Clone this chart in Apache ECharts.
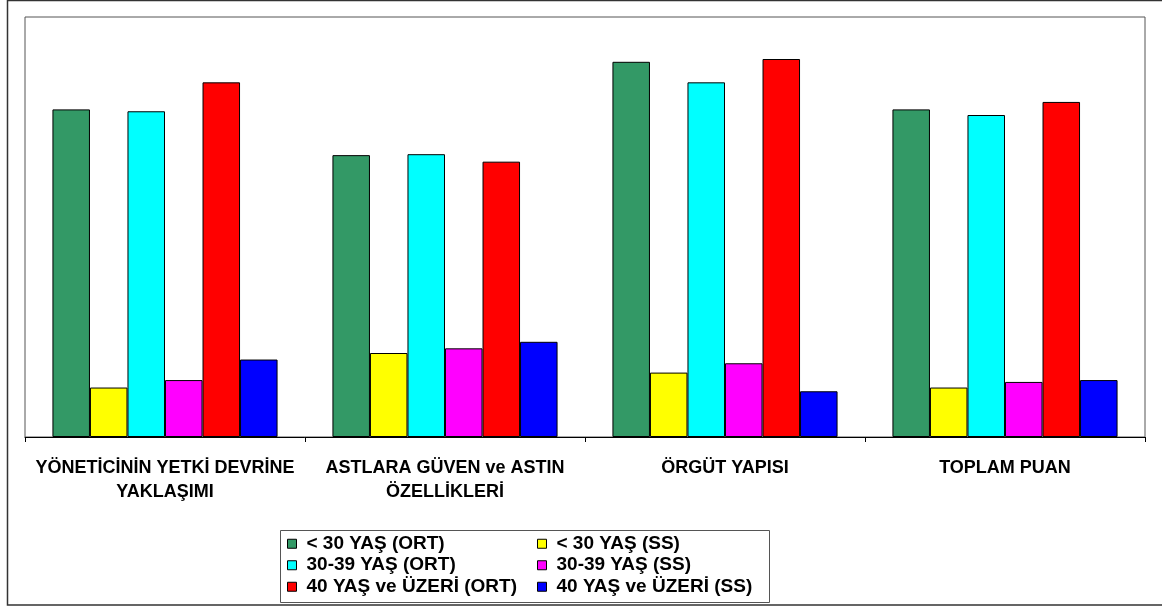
<!DOCTYPE html>
<html>
<head>
<meta charset="utf-8">
<script src="https://cdn.jsdelivr.net/npm/echarts@6/dist/echarts.min.js"></script>
<style>
  html, body { margin: 0; padding: 0; background: #ffffff; }
  #chart { width: 1162px; height: 607px; }
</style>
</head>
<body>
<div id="chart"></div>
<script>
// Alt boyut kategorileri
const categories = [
  'YÖNETİCİNİN YETKİ DEVRİNE\nYAKLAŞIMI',
  'ASTLARA GÜVEN ve ASTIN\nÖZELLİKLERİ',
  'ÖRGÜT YAPISI',
  'TOPLAM PUAN'
];

// Yaş gruplarına göre ortalama (ORT) ve standart sapma (SS) değerleri
const lt30Ort   = [3.51, 3.02, 4.02, 3.51];
const lt30Ss    = [0.53, 0.90, 0.69, 0.53];
const y3039Ort  = [3.49, 3.03, 3.80, 3.45];
const y3039Ss   = [0.61, 0.95, 0.79, 0.59];
const ge40Ort   = [3.80, 2.95, 4.05, 3.59];
const ge40Ss    = [0.83, 1.02, 0.49, 0.61];

const seriesNames = [
  '< 30 YAŞ (ORT)', '< 30 YAŞ (SS)',
  '30-39 YAŞ (ORT)', '30-39 YAŞ (SS)',
  '40 YAŞ ve ÜZERİ (ORT)', '40 YAŞ ve ÜZERİ (SS)'
];
const seriesData = [lt30Ort, lt30Ss, y3039Ort, y3039Ss, ge40Ort, ge40Ss];
const colors = ['#339966', '#FFFF00', '#00FFFF', '#FF00FF', '#FF0000', '#0000FF'];

const FONT = '"Liberation Sans", Arial, sans-serif';

const chart = echarts.init(document.getElementById('chart'), null, { renderer: 'canvas' });

// Two vertical legend columns inside one framed box
const legendCommon = {
  orient: 'vertical',
  top: 533,
  height: 70,
  padding: 0,
  itemWidth: 9,
  itemHeight: 9,
  itemGap: 0,
  icon: 'rect',
  selectedMode: false,
  itemStyle: { borderColor: '#000', borderWidth: 1 },
  textStyle: { fontFamily: FONT, fontWeight: 'bold', fontSize: 19, color: '#000', lineHeight: 21.5, padding: [0, 0, 0, 5] }
};

chart.setOption({
  animation: false,
  backgroundColor: '#ffffff',
  grid: {
    left: 25, top: 17, right: 17, bottom: 170,
    show: true,
    borderColor: '#555',
    borderWidth: 1,
    backgroundColor: 'transparent'
  },
  xAxis: {
    type: 'category',
    data: categories,
    axisLine: { lineStyle: { color: '#000', width: 1 } },
    axisTick: { show: true, length: 5, lineStyle: { color: '#000' } },
    axisLabel: {
      interval: 0,
      margin: 19,
      fontFamily: FONT,
      fontWeight: 'bold',
      fontSize: 18,
      lineHeight: 24,
      color: '#000',
      align: 'center'
    }
  },
  yAxis: {
    type: 'value',
    min: 0,
    max: 4.5,
    show: false,
    splitLine: { show: false }
  },
  legend: [
    Object.assign({}, legendCommon, { left: 287, data: [seriesNames[0], seriesNames[2], seriesNames[4]] }),
    Object.assign({}, legendCommon, { left: 537, data: [seriesNames[1], seriesNames[3], seriesNames[5]] })
  ],
  graphic: [
    {
      type: 'rect',
      silent: true,
      shape: { x: 7.5, y: 0.5, width: 1200, height: 604.5 },
      style: { fill: 'none', stroke: '#333', lineWidth: 1.5 }
    },
    {
      type: 'rect',
      silent: true,
      shape: { x: 280.5, y: 530.5, width: 489, height: 72 },
      style: { fill: 'none', stroke: '#555', lineWidth: 1 }
    }
  ],
  series: seriesNames.map((name, i) => ({
    name: name,
    type: 'bar',
    data: seriesData[i],
    barGap: '0%',
    barCategoryGap: '19.6%',
    itemStyle: { color: colors[i], borderColor: '#000', borderWidth: 1 }
  }))
});
</script>
</body>
</html>
